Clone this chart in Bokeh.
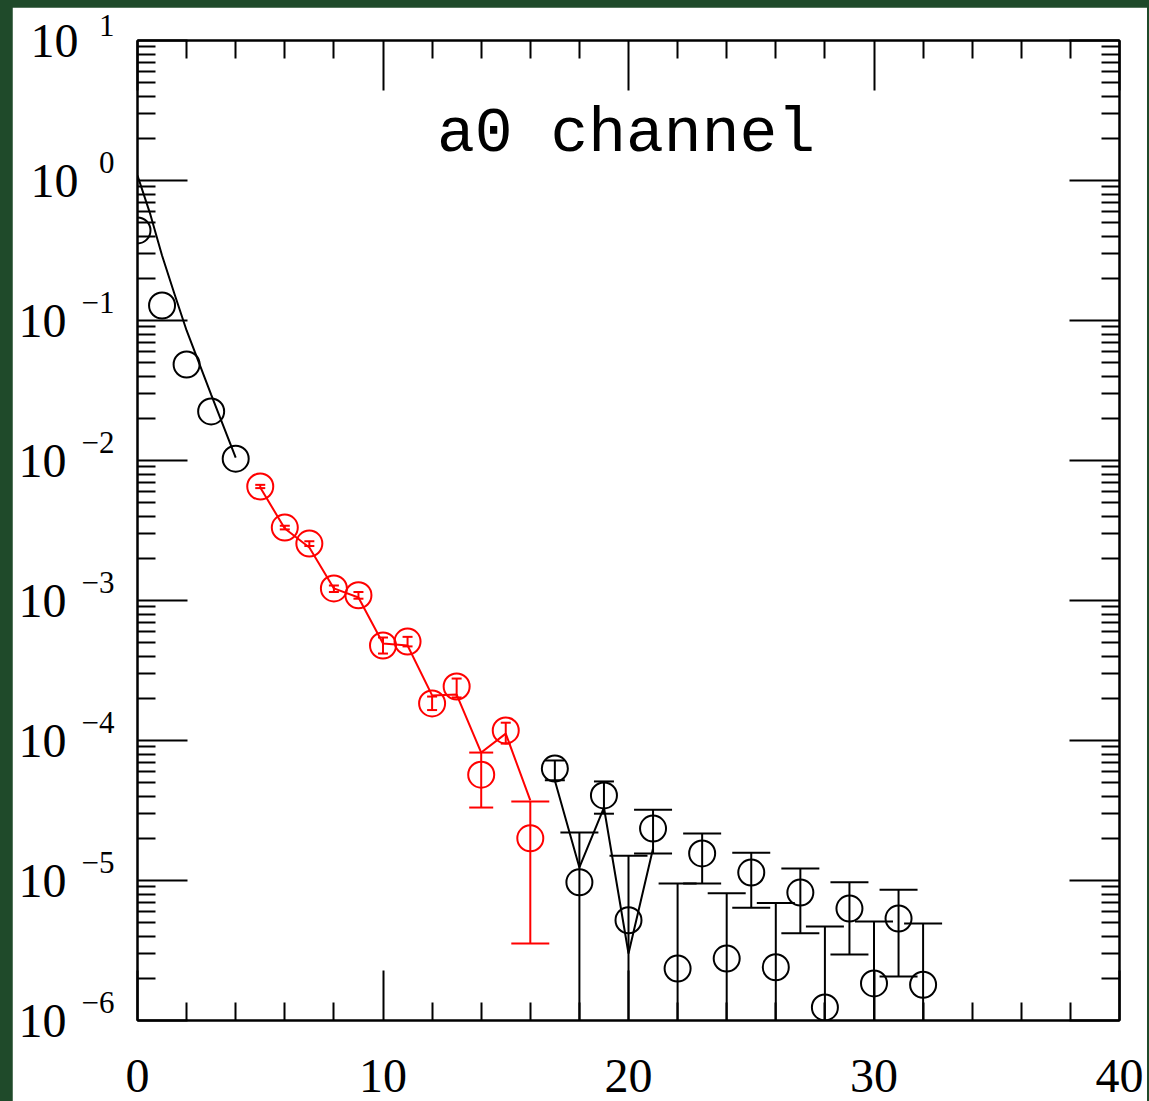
from bokeh.plotting import figure
from bokeh.models import (FixedTicker, LinearAxis, LogAxis, Label,
                          ColumnDataSource, GlobalInlineStyleSheet)
from bokeh.embed import file_html
from bokeh.resources import INLINE

# ---------------- data ----------------
# early-time points (black, 0..4)
t_a = [0, 1, 2, 3, 4]
y_a = [0.44, 0.128, 0.0485, 0.0224, 0.0103]
# fit curve over the early window
fit_t_a = [0, 0.5, 1, 1.5, 2, 3, 4]
fit_y_a = [1.086, 0.59, 0.291, 0.156, 0.0849, 0.0296, 0.0105]

# fit window points (red, 5..16)
t_b = [5, 6, 7, 8, 9, 10, 11, 12, 13, 14, 15, 16]
y_b = [6.52e-3, 3.32e-3, 2.55e-3, 1.22e-3, 1.09e-3, 4.77e-4, 5.09e-4,
       1.84e-4, 2.43e-4, 5.7e-5, 1.18e-4, 2.0e-5]
hi_b = [6.7e-3, 3.42e-3, 2.65e-3, 1.28e-3, 1.15e-3, 5.44e-4, 5.5e-4,
        2.06e-4, 2.77e-4, 8.2e-5, 1.34e-4, 3.66e-5]
lo_b = [6.35e-3, 3.22e-3, 2.45e-3, 1.15e-3, 1.03e-3, 4.18e-4, 4.7e-4,
        1.65e-4, 2.03e-4, 3.32e-5, 9.5e-5, 3.55e-6]
fit_y_b = [6.41e-3, 3.27e-3, 2.39e-3, 1.22e-3, 1.05e-3, 4.93e-4, 4.77e-4,
           2.1e-4, 2.13e-4, 8.2e-5, 1.12e-4, 3.73e-5]

# late-time points (black, 17..32); lower bound 1e-7 = below the axis
t_c = [17, 18, 19, 20, 21, 22, 23, 24, 25, 26, 27, 28, 29, 30, 31, 32]
y_c = [6.3e-5, 9.7e-6, 4.05e-5, 5.2e-6, 2.35e-5, 2.35e-6, 1.56e-5, 2.77e-6,
       1.14e-5, 2.4e-6, 8.2e-6, 1.24e-6, 6.3e-6, 1.84e-6, 5.35e-6, 1.8e-6]
hi_c = [7.2e-5, 2.2e-5, 5.1e-5, 1.5e-5, 3.2e-5, 9.5e-6, 2.17e-5, 8.1e-6,
        1.58e-5, 6.9e-6, 1.22e-5, 4.7e-6, 9.7e-6, 5.1e-6, 8.6e-6, 4.93e-6]
lo_c = [5.2e-5, 1e-7, 3.0e-5, 1e-7, 1.56e-5, 1e-7, 9.5e-6, 1e-7,
        6.4e-6, 1e-7, 4.2e-6, 1e-7, 2.96e-6, 1e-7, 2.06e-6, 1e-7]
fit_t_c = [17, 18, 19, 20, 21]
fit_y_c = [5.18e-5, 1.24e-5, 3.32e-5, 3.01e-6, 1.69e-5]

x_ticks = [0, 10, 20, 30, 40]
x_minor = [2, 4, 6, 8, 12, 14, 16, 18, 22, 24, 26, 28, 32, 34, 36, 38]
y_exps = [-6, -5, -4, -3, -2, -1, 0, 1]
title_text = "a0 channel"

# ---------------- figure ----------------
RED = "#ff0000"
BLK = "#000000"
SERIF = "Liberation Serif"

p = figure(width=1135, height=1094, x_range=(0, 40), y_range=(1e-6, 10),
           y_axis_type="log", output_backend="svg", toolbar_location=None,
           min_border_left=125, min_border_right=28, min_border_top=33,
           min_border_bottom=81)
p.stylesheets = [GlobalInlineStyleSheet(
    css="html, body { background: #1f4a2a; margin: 0; } body { padding: 7px 2px 0 12px; }")]
p.background_fill_color = "white"
p.border_fill_color = "white"
p.outline_line_color = BLK
p.outline_line_width = 2
p.grid.visible = False

y_major = [10.0 ** e for e in y_exps]
y_minor = [m * 10.0 ** e for e in y_exps[:-1] for m in range(2, 10)]


def style_axis(ax, hide_labels=False):
    ax.axis_line_width = 2
    ax.major_tick_line_width = 2
    ax.minor_tick_line_width = 2
    ax.major_tick_in = 50
    ax.major_tick_out = 0
    ax.minor_tick_in = 18
    ax.minor_tick_out = 0
    ax.major_label_text_font = SERIF
    ax.major_label_text_color = BLK
    if hide_labels:
        ax.major_label_text_font_size = "8px"
        ax.major_label_text_color = None
        ax.major_label_standoff = 0


# bottom axis with the x tick labels
p.xaxis.ticker = FixedTicker(ticks=x_ticks, minor_ticks=x_minor)
style_axis(p.xaxis[0])
p.xaxis.major_label_text_font_size = "48px"
p.xaxis.major_label_standoff = 39

# left axis: ticks + exponents (exponent raised as first line of a 2-line label)
p.yaxis.ticker = FixedTicker(ticks=y_major, minor_ticks=y_minor)
style_axis(p.yaxis[0])
p.yaxis.major_label_overrides = {
    v: str(e).replace("-", "\u2212") + "\n\u00a0" for e, v in zip(y_exps, y_major)}
p.yaxis.major_label_text_font_size = "31px"
p.yaxis.major_label_text_line_height = 1.05
p.yaxis.major_label_standoff = 23

# second left axis, outside: the "10" mantissas
base = LogAxis(ticker=FixedTicker(ticks=y_major, minor_ticks=[]))
base.axis_line_color = None
base.major_tick_line_color = None
base.minor_tick_line_color = None
base.major_tick_in = 0
base.major_tick_out = 0
base.minor_tick_in = 0
base.minor_tick_out = 0
base.major_label_standoff = 0
base.major_label_text_font = SERIF
base.major_label_text_font_size = "48px"
base.major_label_text_color = BLK
base.major_label_overrides = {
    v: ("10\u00a0" if e < 0 else "10") for e, v in zip(y_exps, y_major)}
p.add_layout(base, "left")

# mirrored top / right ticks
top = LinearAxis(ticker=FixedTicker(ticks=x_ticks, minor_ticks=x_minor))
style_axis(top, hide_labels=True)
p.add_layout(top, "above")
right = LogAxis(ticker=FixedTicker(ticks=y_major, minor_ticks=y_minor))
style_axis(right, hide_labels=True)
p.add_layout(right, "right")

# fit lines
p.line(fit_t_a, fit_y_a, line_color=BLK, line_width=2)
p.line(t_b, fit_y_b, line_color=RED, line_width=2)
p.line(fit_t_c, fit_y_c, line_color=BLK, line_width=2)

# error bars
src_b = ColumnDataSource(dict(t=t_b, y=y_b, hi=hi_b, lo=lo_b))
src_c = ColumnDataSource(dict(t=t_c, y=y_c, hi=hi_c, lo=lo_c))
p.segment(x0="t", y0="lo", x1="t", y1="hi", source=src_b, line_color=RED, line_width=2)
p.segment(x0="t", y0="lo", x1="t", y1="hi", source=src_c, line_color=BLK, line_width=2)

# caps: small ones for tiny errors, wide ones for the large errors
small_b = [i for i in range(len(t_b)) if t_b[i] < 14 or t_b[i] == 15]
mid_b = [i for i in range(len(t_b)) if t_b[i] == 14]
big_b = [i for i in range(len(t_b)) if t_b[i] == 16]
for idx, sz in ((small_b, 10), (mid_b, 24), (big_b, 38)):
    xs = [t_b[i] for i in idx]
    p.scatter(xs + xs, [hi_b[i] for i in idx] + [lo_b[i] for i in idx],
              marker="dash", size=sz, line_color=RED, line_width=2)
small_c = [i for i in range(len(t_c)) if t_c[i] in (17, 19)]
big_c = [i for i in range(len(t_c)) if t_c[i] not in (17, 19)]
for idx, sz in ((small_c, 20), (big_c, 38)):
    xs = [t_c[i] for i in idx]
    p.scatter(xs + xs, [hi_c[i] for i in idx] + [lo_c[i] for i in idx],
              marker="dash", size=sz, line_color=BLK, line_width=2)

# points
p.scatter(t_a, y_a, marker="circle", size=26, fill_color=None, line_color=BLK, line_width=2)
p.scatter(t_b, y_b, marker="circle", size=26, fill_color=None, line_color=RED, line_width=2)
p.scatter(t_c, y_c, marker="circle", size=26, fill_color=None, line_color=BLK, line_width=2)

# title inside the frame
p.add_layout(Label(x=19.9, y=2.13, text=title_text, text_align="center",
                   text_baseline="alphabetic", text_font="Liberation Mono",
                   text_font_size="63px", text_color=BLK))

open("out.html", "w").write(file_html(p, INLINE))
